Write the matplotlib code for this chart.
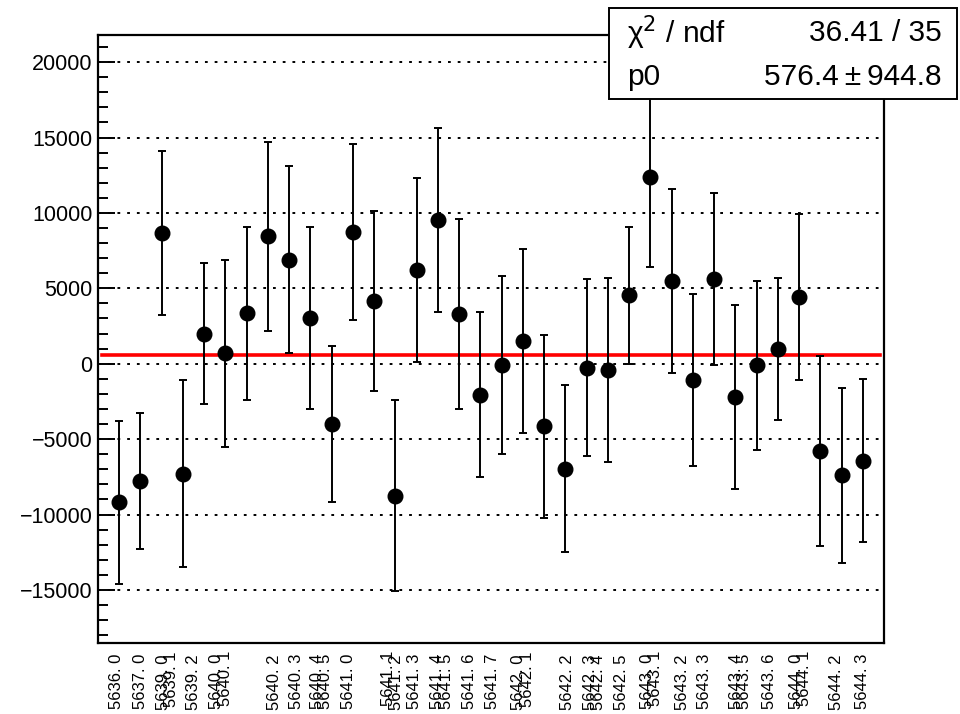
import matplotlib
matplotlib.use("Agg")
import matplotlib.pyplot as plt
import numpy as np
from matplotlib.patches import Rectangle
from matplotlib.ticker import MultipleLocator
import matplotlib.transforms as mtransforms

plt.rcParams['font.family'] = ['Liberation Sans', 'DejaVu Sans']
plt.rcParams['lines.scale_dashes'] = False

# run labels, one per point
run_labels = ["5636. 0", "5637. 0", "5639. 0", "5639. 1", "5639. 2",
              "5640. 0", "5640. 1", "5640. 2", "5640. 3", "5640. 4", "5640. 5",
              "5641. 0", "5641. 1", "5641. 2", "5641. 3", "5641. 4", "5641. 5",
              "5641. 6", "5641. 7",
              "5642. 0", "5642. 1", "5642. 2", "5642. 3", "5642. 4", "5642. 5",
              "5643. 0", "5643. 1", "5643. 2", "5643. 3", "5643. 4", "5643. 5",
              "5643. 6",
              "5644. 0", "5644. 1", "5644. 2", "5644. 3"]

values = [-9200, -7800, 8650, -7300, 2000,
          700, 3350, 8450, 6900, 3050, -4000,
          8750, 4150, -8750, 6200, 9500, 3300,
          -2050, -100,
          1500, -4150, -6950, -250, -400, 4550,
          12400, 5500, -1100, 5600, -2200, -100,
          1000,
          4400, -5800, -7400, -6420]

errors = [5400, 4500, 5450, 6200, 4700,
          6200, 5750, 6250, 6200, 6050, 5200,
          5850, 5950, 6350, 6100, 6100, 6300,
          5450, 5900,
          6100, 6050, 5550, 5850, 6100, 4550,
          6000, 6100, 5700, 5700, 6100, 5600,
          4700,
          5500, 6300, 5800, 5380]

fit_p0 = 576.4
fit_p0_err = 944.8
chi2 = 36.41
ndf = 35

# where the axis puts each bin label (axis units)
label_pos = [-0.11, 1.02, 2.10, 2.48, 3.51,
             4.60, 5.02, 7.32, 8.36, 9.35, 9.72,
             10.80, 12.68, 13.05, 13.90, 14.99, 15.41,
             16.50, 17.58,
             18.80, 19.22, 21.11, 22.19, 22.57, 23.65,
             24.87, 25.25, 26.52, 27.55, 29.06, 29.43,
             30.61,
             31.87, 32.25, 33.76, 34.98]

x = np.arange(len(values))

fig = plt.figure(figsize=(9.6, 7.14), dpi=100)
ax = fig.add_axes([98 / 960, 71 / 714, 786 / 960, 608 / 714])

ax.set_xlim(-1, 36)
ax.set_ylim(-18520, 21800)

# horizontal dotted grid
for yv in range(-15000, 20001, 5000):
    ax.axhline(yv, color='black', lw=1.4, ls=(0, (2, 5)), zorder=1)

ax.plot([-0.8, 35.8], [fit_p0, fit_p0], color='#ff0000', lw=2.6, zorder=2)

ax.errorbar(x, values, yerr=errors, fmt='o', color='black', ms=10.5,
            elinewidth=1.4, capsize=2.8, capthick=1.4, zorder=3)

ax.yaxis.set_major_locator(MultipleLocator(5000))
ax.yaxis.set_minor_locator(MultipleLocator(1000))
ax.tick_params(axis='y', which='major', direction='in', length=12, width=1.4,
               labelsize=15.5, pad=4, right=False)
ax.tick_params(axis='y', which='minor', direction='in', length=7, width=1.4,
               right=False)

ax.set_xticks(label_pos)
ax.set_xticklabels(run_labels, rotation=90, fontsize=12)
ax.tick_params(axis='x', length=0, pad=8, top=False)
for lab in ax.get_xticklabels():
    if lab.get_text().endswith(" 1"):
        lab.set_transform(lab.get_transform() +
                          mtransforms.ScaledTranslation(0, 3 / 100, fig.dpi_scale_trans))

for sp in ax.spines.values():
    sp.set_linewidth(1.6)

# stats box
fig.patches.append(Rectangle((609 / 960, 1 - 99 / 714), 348 / 960, 91 / 714,
                             transform=fig.transFigure, facecolor='white',
                             edgecolor='black', lw=1.4, zorder=10))
fig.text(627 / 960, 1 - 33 / 714, "\u03c7$^{2}$ / ndf", fontsize=21.5,
         ha='left', va='center', zorder=11)
fig.text(942 / 960, 1 - 33 / 714, f"{chi2:.2f} / {ndf}", fontsize=21.5,
         ha='right', va='center', zorder=11)
fig.text(627 / 960, 1 - 77 / 714, "p0", fontsize=21.5,
         ha='left', va='center', zorder=11)
fig.text(942 / 960, 1 - 77 / 714, f"{fit_p0:.1f}\u2009\u00b1\u2009{fit_p0_err:.1f}",
         fontsize=21.5, ha='right', va='center', zorder=11)

fig.savefig("out.png", dpi=100)
